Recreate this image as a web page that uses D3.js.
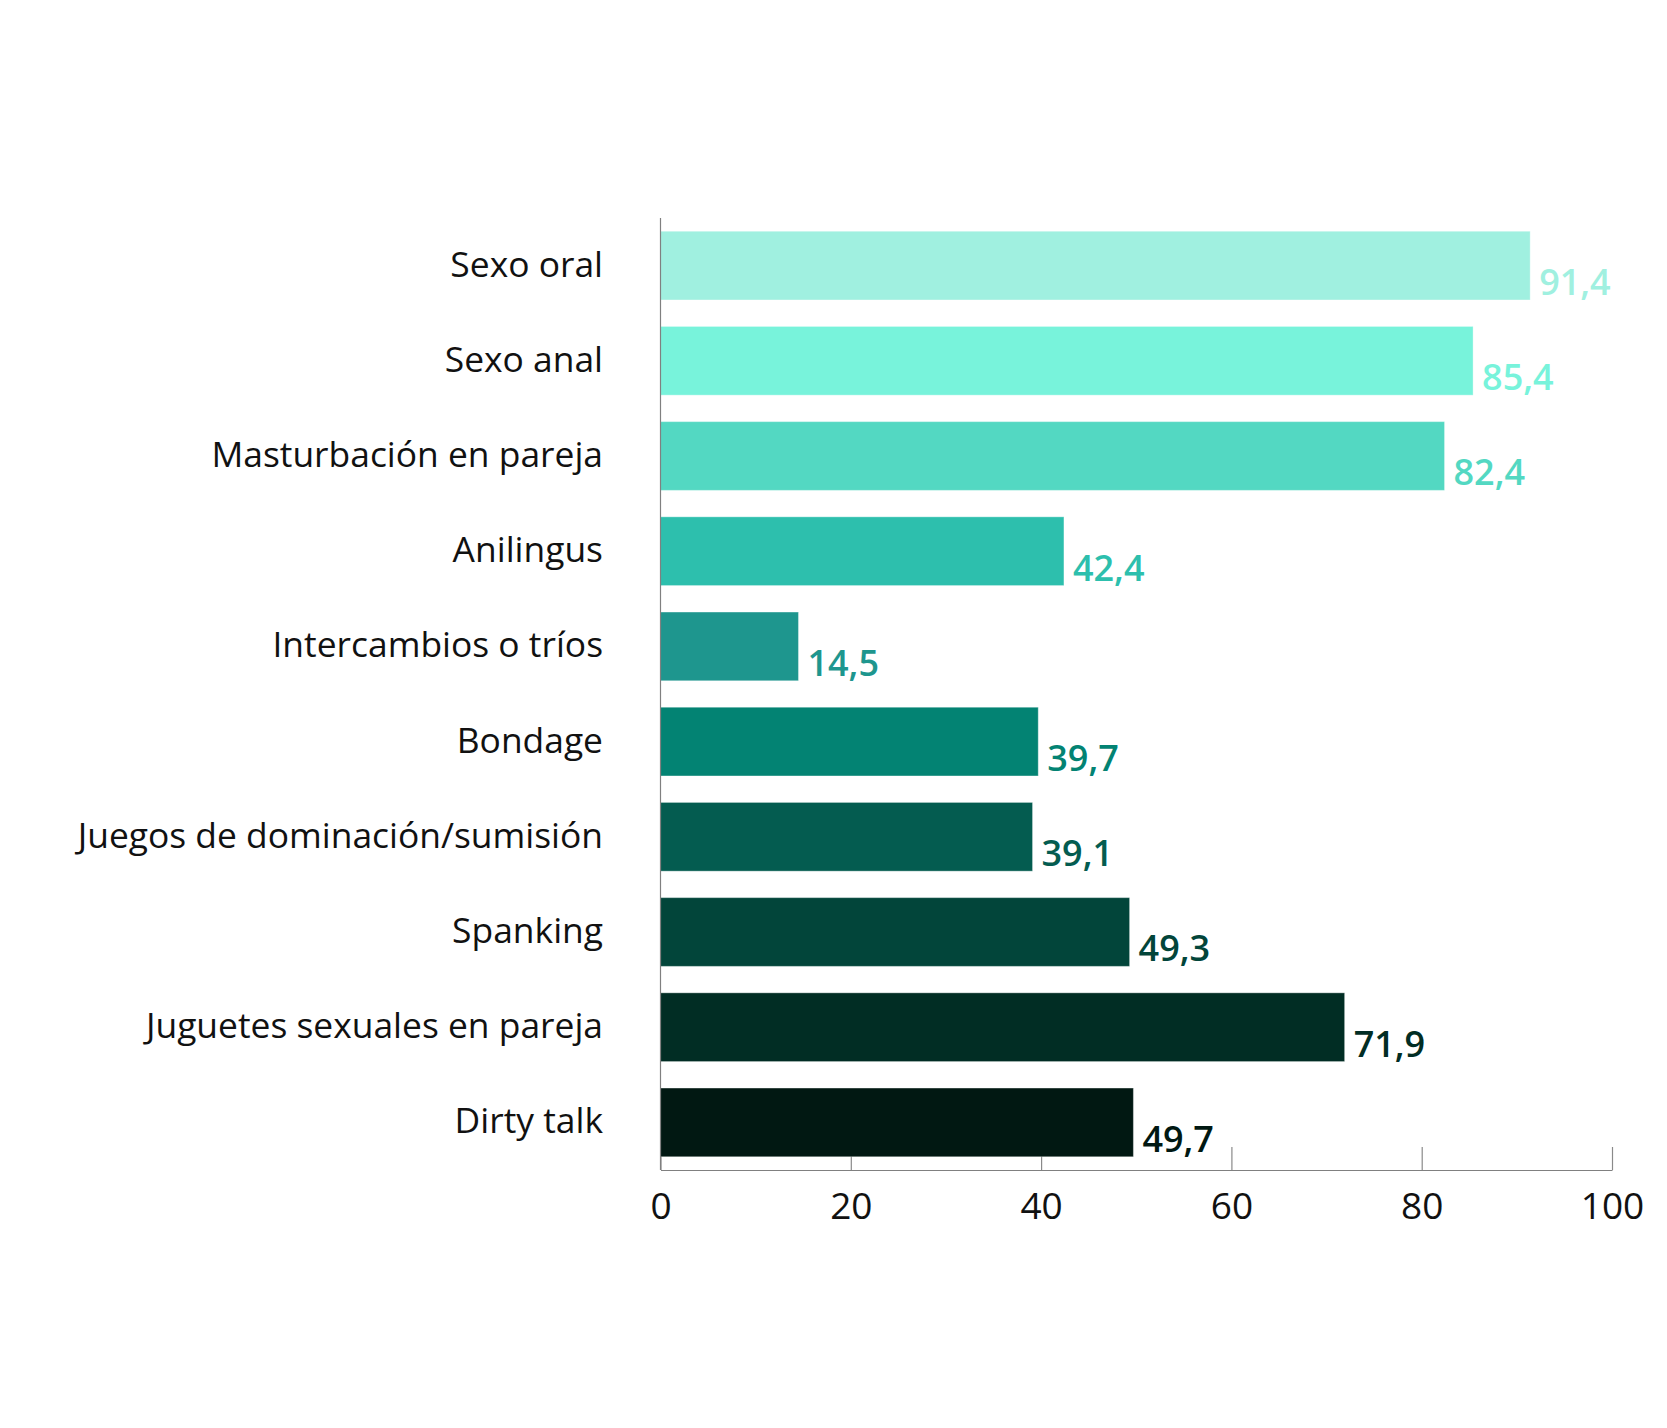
<!DOCTYPE html>
<html>
<head>
<meta charset="utf-8">
<script src="https://cdn.jsdelivr.net/npm/d3@7"></script>
<style>
  html, body { margin: 0; padding: 0; background: #fff; }
  svg { display: block; }
  text { font-family: "Open Sans", "Noto Sans", sans-serif; }
</style>
</head>
<body>
<div id="chart"></div>
<script>
const categories = [
  "Sexo oral",
  "Sexo anal",
  "Masturbación en pareja",
  "Anilingus",
  "Intercambios o tríos",
  "Bondage",
  "Juegos de dominación/sumisión",
  "Spanking",
  "Juguetes sexuales en pareja",
  "Dirty talk"
];
const values = [91.4, 85.4, 82.4, 42.4, 14.5, 39.7, 39.1, 49.3, 71.9, 49.7];
const colors = ["#a0f0e0", "#78f3db", "#53d8c2", "#2dbfad", "#1e968e",
                "#038373", "#045c50", "#02453a", "#012d24", "#011812"];
const xTicks = [0, 20, 40, 60, 80, 100];
const xTickLabels = ["0", "20", "40", "60", "80", "100"];

const W = 1667, H = 1428;
const svg = d3.select("#chart").append("svg").attr("width", W).attr("height", H);

const x = d3.scaleLinear().domain([0, 100]).range([660.5, 1612]);
const y = d3.scaleBand().domain(categories).range([218, 1170])
  .paddingInner(0.278).paddingOuter(0.139);

// bars
svg.append("g").selectAll("rect").data(categories).join("rect")
  .attr("x", x(0))
  .attr("y", d => y(d))
  .attr("width", (d, i) => x(values[i]) - x(0))
  .attr("height", y.bandwidth())
  .attr("fill", (d, i) => colors[i])
  .attr("stroke", "rgba(255,255,255,0.35)")
  .attr("stroke-width", 1);

// bottom axis
const xAxis = d3.axisBottom(x).tickValues(xTicks)
  .tickFormat((d, i) => xTickLabels[i]).tickSize(-23).tickSizeOuter(0);
const gx = svg.append("g").attr("transform", `translate(0,${1170})`).call(xAxis);
gx.select(".domain").attr("stroke", "#808080").attr("stroke-width", 1.2);
gx.selectAll(".tick line").attr("stroke", "#8a8a8a").attr("stroke-width", 1.2);
gx.selectAll(".tick text")
  .attr("y", 49).attr("dy", 0)
  .attr("fill", "#111")
  .style("font-size", "37px");
gx.lower();

// left axis line
svg.append("line")
  .attr("x1", x(0)).attr("x2", x(0))
  .attr("y1", y.range()[0]).attr("y2", y.range()[1])
  .attr("stroke", "#808080").attr("stroke-width", 1.2);

// category labels
svg.append("g").selectAll("text").data(categories).join("text")
  .attr("x", 603)
  .attr("y", d => y(d) + y.bandwidth() / 2 + 11)
  .attr("text-anchor", "end")
  .attr("fill", "#111")
  .style("font-size", "35.4px")
  .text(d => d);

// value labels
svg.append("g").selectAll("text").data(categories).join("text")
  .attr("x", (d, i) => x(values[i]) + 9)
  .attr("y", d => y(d) + y.bandwidth() - 5)
  .attr("fill", (d, i) => colors[i])
  .style("font-size", "36px")
  .style("font-weight", 600)
  .text((d, i) => String(values[i]).replace(".", ","));
</script>
</body>
</html>
